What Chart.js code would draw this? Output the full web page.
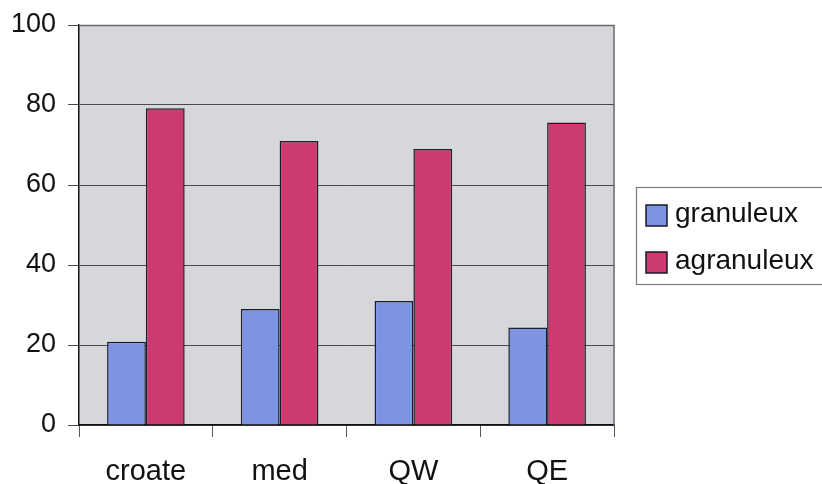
<!DOCTYPE html>
<html>
<head>
<meta charset="utf-8">
<script src="https://cdn.jsdelivr.net/npm/chart.js@4/dist/chart.umd.min.js"></script>
<style>
  html, body { margin: 0; padding: 0; background: #ffffff; }
  #wrap { width: 822px; height: 484px; position: relative; }
</style>
</head>
<body>
<div id="wrap"><canvas id="c" width="822" height="484"></canvas></div>
<script>
// Categories and series (percent of each type per group)
const categories = ['croate', 'med', 'QW', 'QE'];
const seriesNames = ['granuleux', 'agranuleux'];
const granuleux = [20.8, 29.0, 31.0, 24.4];
const agranuleux = [79.2, 71.0, 69.0, 75.6];
const yTicks = [0, 20, 40, 60, 80, 100];

const FONT = 'Arial, "Liberation Sans", Helvetica, sans-serif';

// Grey plot background plus a thin frame on top/right
const plotFrame = {
  id: 'plotFrame',
  beforeDraw(chart) {
    const a = chart.chartArea, ctx = chart.ctx;
    ctx.save();
    ctx.fillStyle = '#d5d7db';
    ctx.fillRect(a.left, a.top, a.right - a.left, a.bottom - a.top);
    ctx.restore();
  },
  afterDraw(chart) {
    const a = chart.chartArea, ctx = chart.ctx;
    ctx.save();
    ctx.strokeStyle = '#6a6a6a';
    ctx.lineWidth = 1.5;
    ctx.beginPath();
    ctx.moveTo(a.left, a.top + 0.5);
    ctx.lineTo(a.right, a.top + 0.5);
    ctx.lineTo(a.right, a.bottom);
    ctx.stroke();
    ctx.restore();
  }
};

// Boxed legend to the right of the plot
const boxLegend = {
  id: 'boxLegend',
  afterDraw(chart) {
    const ctx = chart.ctx;
    const x0 = 636, y0 = 187, w = 190, h = 97;
    ctx.save();
    ctx.fillStyle = '#ffffff';
    ctx.fillRect(x0, y0, w, h);
    ctx.strokeStyle = '#7a7a7a';
    ctx.lineWidth = 1.2;
    ctx.strokeRect(x0 + 0.5, y0 + 0.5, w, h);
    ctx.font = '28px ' + FONT;
    ctx.textBaseline = 'middle';
    chart.data.datasets.forEach((ds, i) => {
      const cy = y0 + 28 + i * 47;
      ctx.fillStyle = ds.backgroundColor;
      ctx.fillRect(646, cy - 10, 21, 21);
      ctx.strokeStyle = '#1a1a2a';
      ctx.lineWidth = 1.5;
      ctx.strokeRect(646, cy - 10, 21, 21);
      ctx.fillStyle = '#111111';
      ctx.fillText(ds.label, 675, cy - 1);
    });
    ctx.restore();
  }
};

new Chart(document.getElementById('c'), {
  type: 'bar',
  data: {
    labels: categories,
    datasets: [
      { label: seriesNames[0], data: granuleux, backgroundColor: '#7d94e2', borderColor: '#1c1c2c', borderWidth: 1.5 },
      { label: seriesNames[1], data: agranuleux, backgroundColor: '#cc3a70', borderColor: '#1c1c2c', borderWidth: 1.5 }
    ]
  },
  options: {
    responsive: false,
    animation: false,
    devicePixelRatio: 1,
    layout: { padding: { top: 25, right: 208, left: 0, bottom: 0 } },
    datasets: { bar: { categoryPercentage: 0.58, barPercentage: 1.0 } },
    plugins: { legend: { display: false }, tooltip: { enabled: false } },
    scales: {
      x: {
        offset: true,
        grid: { offset: true, drawOnChartArea: false, drawTicks: true, tickLength: 12, color: '#555555', lineWidth: 1 },
        border: { display: true, color: '#111111', width: 1.5 },
        ticks: { color: '#111111', font: { family: FONT, size: 29 }, padding: 18 },
        afterFit(s) { s.height = 59; s.paddingLeft = 0; s.paddingRight = 0; }
      },
      y: {
        min: 0, max: 100,
        afterBuildTicks(s) { s.ticks = yTicks.map(v => ({ value: v })); },
        grid: { color: '#4a4a4a', lineWidth: 1, tickLength: 11, drawTicks: true },
        border: { display: true, color: '#111111', width: 1.5 },
        ticks: { color: '#111111', font: { family: FONT, size: 27 }, padding: 12 },
        afterFit(s) { s.width = 79; s.paddingTop = 0; s.paddingBottom = 0; }
      }
    }
  },
  plugins: [plotFrame, boxLegend]
});
</script>
</body>
</html>
